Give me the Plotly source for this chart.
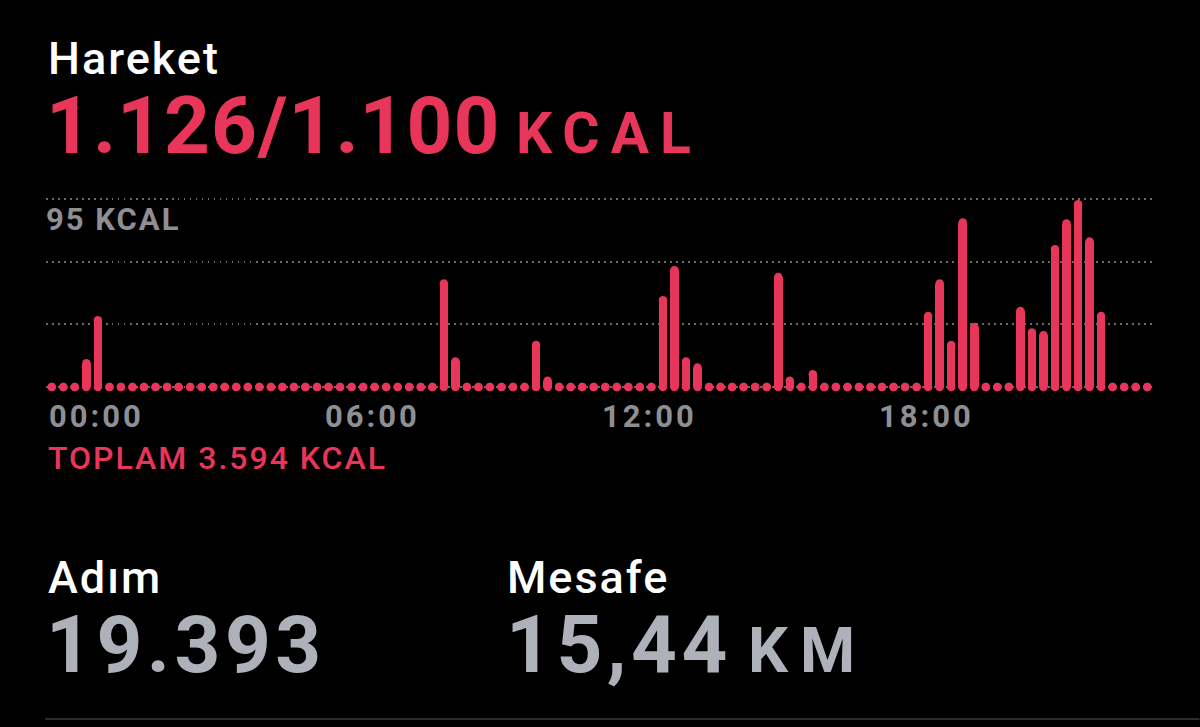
import plotly.graph_objects as go

# ---- data ----
slots = list(range(96))  # 15-minute slots of the day
kcal = [0, 0, 0, 12.0, 33.7, 0, 0, 0, 0, 0, 0, 0,
        0, 0, 0, 0, 0, 0, 0, 0, 0, 0, 0, 0,
        0, 0, 0, 0, 0, 0, 0, 0, 0, 0, 52.3, 12.9,
        0, 0, 0, 0, 0, 0, 21.2, 3.1, 0, 0, 0, 0,
        0, 0, 0, 0, 0, 43.8, 59.0, 12.9, 9.8, 0, 0, 0,
        0, 0, 0, 55.6, 3.1, 0, 6.4, 0, 0, 0, 0, 0,
        0, 0, 0, 0, 35.9, 52.3, 21.2, 83.1, 30.3, 0, 0, 0,
        38.4, 27.5, 26.1, 69.6, 82.6, 92.3, 73.5, 35.9, 0, 0, 0, 0]
tick_slots = [0, 24, 48, 72]
tick_labels = ["00:00", "06:00", "12:00", "18:00"]
grid_vals = [0, 95 / 3, 2 * 95 / 3, 95]

RED = "#e8365a"
GRAY = "#8e8e93"
LIGHTGRAY = "#aeb0ba"
FONT = "Roboto"

W, H = 1200, 727
PL, PR = 46, 1153.5     # plot area left/right px
PT, PB = 195, 395       # plot area top/bottom px


def px(x):
    return (x - PL) / (PR - PL)


def py(y):
    return (PB - y) / (PB - PT)


fig = go.Figure()
fig.add_trace(go.Bar(x=slots, y=kcal, width=0.74, marker_color=RED,
                     marker_line_width=0, hoverinfo="skip"))
fig.add_trace(go.Scatter(x=slots + slots, y=[0] * len(slots) + kcal, mode="markers",
                         marker=dict(size=8.5, color=RED, line_width=0), hoverinfo="skip"))

ann = []


def text(t, x, y, size, color, weight="bold", xref="paper", ls=0):
    if ls:
        t = '<span style="letter-spacing:%spx">%s</span>' % (ls, t)
    ann.append(dict(text=t, x=x, y=py(y), xref=xref, yref="paper", xanchor="left",
                    yanchor="middle", showarrow=False,
                    font=dict(family=FONT, size=size, color=color, weight=weight)))


text("Hareket", px(46), 58.5, 45, "white", weight=500, ls=2)
text("1.126/1.100", px(44), 125.5, 80, RED, ls=1)
text("KCAL", px(514), 133, 57, RED, ls=11)
text("95 KCAL", px(44), 219, 31, GRAY, ls=2)
for s, lab in zip(tick_slots, tick_labels):
    text(lab, s - 0.45, 416.5, 31, GRAY, xref="x", ls=3)
text("TOPLAM 3.594 KCAL", px(46), 458, 32, RED, weight=500, ls=2)
text("Adım", px(46), 577.5, 45, "white", weight=500, ls=2)
text("19.393", px(44), 645, 80, LIGHTGRAY, ls=4.5)
text("Mesafe", px(505), 577.5, 45, "white", weight=500, ls=2)
text("15,44", px(504), 645, 80, LIGHTGRAY, ls=4.5)
text("KM", px(746), 650.5, 63, LIGHTGRAY, ls=12)

fig.update_layout(
    width=W, height=H,
    margin=dict(l=PL, r=W - PR, t=PT, b=H - PB, autoexpand=False),
    paper_bgcolor="black", plot_bgcolor="black",
    showlegend=False, bargap=0,
    annotations=ann,
    shapes=[dict(type="line", xref="paper", yref="paper", x0=px(45), x1=px(1200),
                 y0=py(719), y1=py(719), line=dict(color="#2c2c2e", width=2))],
    xaxis=dict(range=[-0.5, 95.5], showgrid=False, zeroline=False,
               showticklabels=False, ticks="", fixedrange=True),
    yaxis=dict(range=[-(PB - 387) / 1.979, (387 - PT) / 1.979], tickvals=grid_vals,
               showticklabels=False, ticks="", zeroline=False, showgrid=True,
               gridcolor="#6a6a6e", gridwidth=1.5, griddash="1.5px,4.5px",
               fixedrange=True),
)

fig.write_html("out.html", config={"displayModeBar": False},
               post_script="document.body.style.margin='0';"
                           "document.body.style.overflow='hidden';"
                           "document.body.style.background='black';")
